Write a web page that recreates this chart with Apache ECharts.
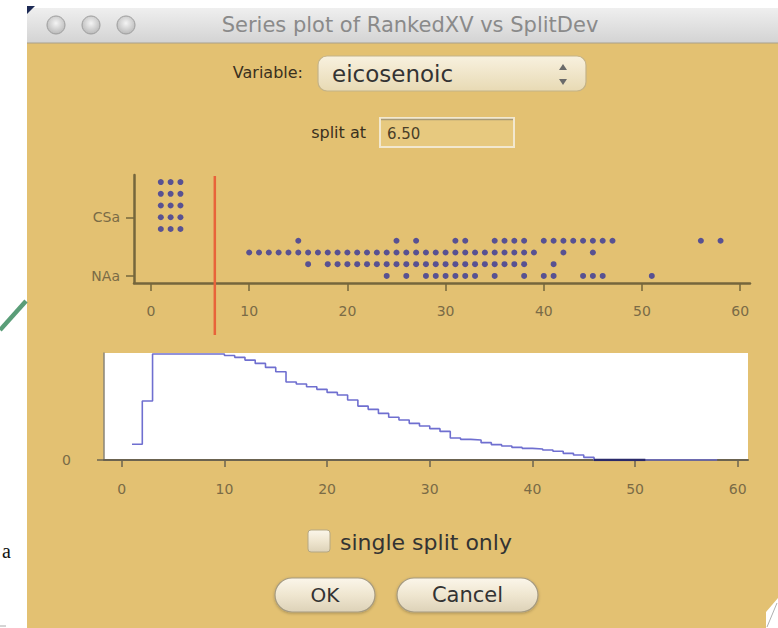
<!DOCTYPE html>
<html>
<head>
<meta charset="utf-8">
<script src="https://cdn.jsdelivr.net/npm/echarts@6/dist/echarts.min.js"></script>
<style>
html,body{margin:0;padding:0;background:#ffffff;}
#chart{width:778px;height:628px;}
</style>
</head>
<body>
<div id="chart"></div>
<script>
// ---- data ----
const xTicks = [0, 10, 20, 30, 40, 50, 60];
const yCatValues = [0, 5];
const yCatNames = ['NAa', 'CSa'];
const splitAt = 6.5;

// dot plot (RankedXV) - x values per stacking level
const csaLevel4 = [1, 2, 3];
const csaLevel5 = [1, 2, 3];
const csaLevel6 = [1, 2, 3];
const csaLevel7 = [1, 2, 3];
const csaLevel8 = [1, 2, 3];
const naaLevel0 = [24, 26, 28, 29, 30, 31, 32, 33, 35, 38, 40, 41, 44, 45, 46, 51];
const naaLevel1 = [16, 18, 19, 20, 21, 22, 23, 24, 25, 26, 27, 28, 29, 30, 31, 32, 33, 34, 35, 36, 37, 38, 41];
const naaLevel2 = [10, 11, 12, 13, 14, 15, 16, 17, 18, 19, 20, 21, 22, 23, 24, 25, 26, 27, 28, 29, 30, 31, 32, 33, 34, 35, 36, 37, 38, 39, 42, 45];
const naaLevel3 = [15, 25, 27, 31, 32, 35, 36, 37, 38, 40, 41, 42, 43, 44, 45, 46, 47, 56, 58];

// split deviance step curve
const devX = [1, 2, 3, 10, 11, 12, 13, 14, 15, 16, 17, 18, 19, 20, 21, 22, 23, 24, 25, 26, 27, 28, 29, 30, 31, 32, 33, 34, 35, 36, 37, 38, 39, 40, 41, 42, 43, 44, 45, 46, 58];
const devY = [14.8, 55.7, 100, 98.7, 96.9, 94.3, 91.2, 87.4, 83.3, 73.6, 71.7, 69.2, 66.7, 63.8, 61.3, 56.6, 50.9, 47.8, 44.0, 40.3, 37.7, 34.6, 32.1, 29.6, 27.0, 20.8, 19.5, 18.9, 16.4, 14.5, 13.2, 11.9, 11.0, 10.4, 9.4, 8.2, 6.3, 4.7, 2.5, 0, 0];
const zeroRunX = [46, 51];
const zeroRunY = [0, 0];

// ---- build ----
const levels = [
  [naaLevel0, 0], [naaLevel1, 1], [naaLevel2, 2], [naaLevel3, 3],
  [csaLevel4, 4], [csaLevel5, 5], [csaLevel6, 6], [csaLevel7, 7], [csaLevel8, 8]
];
const dots = [];
levels.forEach(([arr, lv]) => arr.forEach(x => dots.push([x, lv])));
const devData = devX.map((x, i) => [x, devY[i]]);
const zeroData = zeroRunX.map((x, i) => [x, zeroRunY[i]]);

const axisColor = '#75663c';
const labelColor = '#7a6b46';
const FF = 'DejaVu Sans';
const G = echarts.graphic;

const chart = echarts.init(document.getElementById('chart'), null, {renderer: 'svg'});

const btnFill = new G.LinearGradient(0, 0, 0, 1, [
  {offset: 0, color: '#fbf6ea'}, {offset: 0.5, color: '#efe6d0'}, {offset: 1, color: '#ddd2b8'}
]);
const circleFill = () => new G.RadialGradient(0.5, 0.4, 0.6, [
  {offset: 0, color: '#f4f4f4'}, {offset: 1, color: '#b9b9b9'}
]);

const graphics = [
  {type: 'rect', shape: {x: 0, y: 0, width: 27, height: 628}, style: {fill: '#ffffff'}},
  {type: 'rect', shape: {x: 27, y: 0, width: 751, height: 8}, style: {fill: '#ffffff'}},
  {type: 'line', shape: {x1: 0, y1: 330, x2: 26, y2: 301}, style: {stroke: '#5a9d78', lineWidth: 4.5}},
  {type: 'text', style: {x: 2, y: 551, text: 'a', font: '20px "Liberation Serif"', fill: '#111', textVerticalAlign: 'middle'}},
  {type: 'line', shape: {x1: 0, y1: 626, x2: 6, y2: 626}, style: {stroke: '#aaa', lineWidth: 1}},
  // title bar
  {type: 'rect', shape: {x: 27, y: 8, width: 751, height: 35},
    style: {fill: new G.LinearGradient(0, 0, 0, 1, [{offset: 0, color: '#efefef'}, {offset: 1, color: '#d3d3d3'}])}},
  {type: 'line', shape: {x1: 27, y1: 43, x2: 778, y2: 43}, style: {stroke: '#a9a08a', lineWidth: 1}},
  {type: 'polygon', shape: {points: [[27, 6], [35, 6], [27, 14]]}, style: {fill: '#1d2a55'}},
  {type: 'circle', shape: {cx: 56, cy: 25, r: 9}, style: {fill: circleFill(), stroke: '#9c9c9c', lineWidth: 1}},
  {type: 'circle', shape: {cx: 91, cy: 25, r: 9}, style: {fill: circleFill(), stroke: '#9c9c9c', lineWidth: 1}},
  {type: 'circle', shape: {cx: 126, cy: 25, r: 9}, style: {fill: circleFill(), stroke: '#9c9c9c', lineWidth: 1}},
  {type: 'text', style: {x: 410, y: 25, text: 'Series plot of RankedXV vs SplitDev', font: '21px "' + FF + '"', fill: '#8a8a8a', textAlign: 'center', textVerticalAlign: 'middle'}},
  // variable chooser
  {type: 'text', style: {x: 303, y: 72, text: 'Variable:', font: '16px "' + FF + '"', fill: '#3a301e', textAlign: 'right', textVerticalAlign: 'middle'}},
  {type: 'rect', shape: {x: 318, y: 56, width: 268, height: 35, r: 9},
    style: {fill: new G.LinearGradient(0, 0, 0, 1, [{offset: 0, color: '#f8f1df'}, {offset: 1, color: '#e8dab4'}]), stroke: '#c4b388', lineWidth: 1.2}},
  {type: 'text', style: {x: 332, y: 74, text: 'eicosenoic', font: '23px "' + FF + '"', fill: '#333333', textVerticalAlign: 'middle'}},
  {type: 'polygon', shape: {points: [[559, 70], [567, 70], [563, 64]]}, style: {fill: '#6a6a6a'}},
  {type: 'polygon', shape: {points: [[559, 79], [567, 79], [563, 85]]}, style: {fill: '#6a6a6a'}},
  // split at
  {type: 'text', style: {x: 366, y: 132, text: 'split at', font: '16px "' + FF + '"', fill: '#3a301e', textAlign: 'right', textVerticalAlign: 'middle'}},
  {type: 'rect', shape: {x: 380, y: 118, width: 134, height: 29}, style: {fill: '#e7c97f', stroke: '#f2e8cf', lineWidth: 2}},
  {type: 'line', shape: {x1: 381, y1: 119.5, x2: 513, y2: 119.5}, style: {stroke: '#a99a76', lineWidth: 1.5}},
  {type: 'text', style: {x: 387, y: 134, text: '6.50', font: '15px "' + FF + '"', fill: '#4a3f28', textVerticalAlign: 'middle'}},
  // checkbox
  {type: 'rect', shape: {x: 308, y: 530, width: 22, height: 22, r: 3}, style: {fill: btnFill, stroke: '#b4a784', lineWidth: 1}},
  {type: 'text', style: {x: 340, y: 542, text: 'single split only', font: '22px "' + FF + '"', fill: '#333333', textVerticalAlign: 'middle'}},
  // buttons
  {type: 'rect', shape: {x: 275, y: 578, width: 100, height: 34, r: 17}, style: {fill: btnFill, stroke: '#a59a80', lineWidth: 1.2, shadowBlur: 3, shadowColor: 'rgba(0,0,0,0.25)', shadowOffsetY: 1}},
  {type: 'text', style: {x: 325, y: 595, text: 'OK', font: '20px "' + FF + '"', fill: '#333333', textAlign: 'center', textVerticalAlign: 'middle'}},
  {type: 'rect', shape: {x: 397, y: 578, width: 141, height: 34, r: 17}, style: {fill: btnFill, stroke: '#a59a80', lineWidth: 1.2, shadowBlur: 3, shadowColor: 'rgba(0,0,0,0.25)', shadowOffsetY: 1}},
  {type: 'text', style: {x: 467.5, y: 595, text: 'Cancel', font: '21px "' + FF + '"', fill: '#333333', textAlign: 'center', textVerticalAlign: 'middle'}},
  // resize corner
  {type: 'polygon', shape: {points: [[778, 598], [778, 628], [766, 628], [766, 612]]}, style: {fill: '#ffffff'}},
  {type: 'line', shape: {x1: 767, y1: 627, x2: 777, y2: 603}, style: {stroke: '#b0b0b0', lineWidth: 1}}
].map(e => Object.assign({silent: true}, e));

const axisLabelStyle = {color: labelColor, fontSize: 14, fontFamily: FF};

const option = {
  backgroundColor: '#E3C172',
  animation: false,
  graphic: {elements: graphics},
  grid: [
    {left: 134, top: 175, width: 616, height: 108, show: false},
    {left: 104, top: 353, width: 644, height: 107, show: true, backgroundColor: '#ffffff', borderWidth: 0}
  ],
  xAxis: [
    {gridIndex: 0, type: 'value', min: -1.73, max: 61,
      axisLine: {show: true, onZero: false, lineStyle: {color: axisColor, width: 2.5}},
      axisTick: {show: true, customValues: xTicks, length: 8, lineStyle: {color: axisColor, width: 1.5}},
      axisLabel: Object.assign({customValues: xTicks, margin: 21}, axisLabelStyle),
      splitLine: {show: false}},
    {gridIndex: 1, type: 'value', min: -1.73, max: 61,
      axisLine: {show: true, onZero: false, lineStyle: {color: '#6b6350', width: 2}},
      axisTick: {show: true, customValues: xTicks, length: 7, lineStyle: {color: '#6b6350', width: 1.5}},
      axisLabel: Object.assign({customValues: xTicks, margin: 22}, axisLabelStyle),
      splitLine: {show: false}}
  ],
  yAxis: [
    {gridIndex: 0, type: 'value', min: -0.6, max: 8.6,
      axisLine: {show: true, onZero: false, lineStyle: {color: axisColor, width: 2.5}},
      axisTick: {show: true, customValues: yCatValues, length: 8, lineStyle: {color: axisColor, width: 1.5}},
      axisLabel: Object.assign({customValues: yCatValues, margin: 14,
        formatter: v => { const i = yCatValues.findIndex(c => Math.abs(c - v) < 1e-6); return i >= 0 ? yCatNames[i] : ''; }}, axisLabelStyle),
      splitLine: {show: false}},
    {gridIndex: 1, type: 'value', min: 0, max: 101,
      axisLine: {show: true, onZero: false, lineStyle: {color: '#8a8578', width: 1.5}},
      axisTick: {show: true, customValues: [0], length: 7, lineStyle: {color: '#6b6350', width: 1.5}},
      axisLabel: Object.assign({customValues: [0], margin: 33}, axisLabelStyle),
      splitLine: {show: false}}
  ],
  series: [
    {type: 'scatter', xAxisIndex: 0, yAxisIndex: 0, data: dots, symbol: 'circle', symbolSize: 6,
      itemStyle: {color: '#34349a'}, silent: true},
    {type: 'custom', xAxisIndex: 0, yAxisIndex: 0, data: [[splitAt, 0]], clip: false, silent: true,
      encode: {x: 0, y: 1},
      renderItem: function (params, api) {
        const top = api.coord([api.value(0), 8.6]);
        const bot = api.coord([api.value(0), -0.6]);
        return {type: 'line', shape: {x1: top[0], y1: top[1] + 1, x2: bot[0], y2: bot[1] + 52},
          style: {stroke: '#e8633a', lineWidth: 2.5}};
      }},
    {type: 'line', xAxisIndex: 1, yAxisIndex: 1, data: devData, step: 'end', showSymbol: false, silent: true,
      lineStyle: {color: '#6f6fd0', width: 1.6}},
    {type: 'line', xAxisIndex: 1, yAxisIndex: 1, data: zeroData, showSymbol: false, silent: true,
      lineStyle: {color: '#2a2a6a', width: 2.5}}
  ]
};
chart.setOption(option);
</script>
</body>
</html>
